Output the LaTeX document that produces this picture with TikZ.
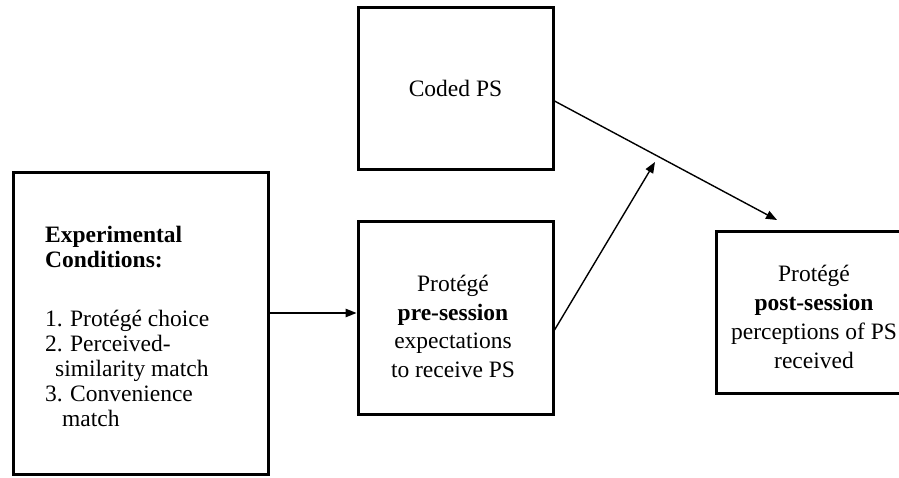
\documentclass[tikz,border=0pt]{standalone}
\usepackage{fontspec}
\setmainfont{Liberation Serif}
\usetikzlibrary{arrows.meta}
\begin{document}
\begin{tikzpicture}[x=1pt,y=1pt,
  boxnode/.style={draw=black, line width=3pt, rectangle, inner sep=0pt, font=\fontsize{23.5}{28.5}\selectfont},
  txt/.style={inner sep=0pt, font=\fontsize{23.5}{28.5}\selectfont, align=center},
  conn/.style={line width=1.4pt, -{Triangle[length=11pt,width=8.5pt]}}]
\useasboundingbox (0,0) rectangle (899,477);
\clip (0,0) rectangle (899,477);
% boxes
\node[boxnode, minimum width=254.5pt, minimum height=301pt] (cond) at (140.75,153.5) {};
\node[boxnode, minimum width=195pt, minimum height=162.7pt] (coded) at (455.5,388.35) {Coded PS};
\node[boxnode, minimum width=195pt, minimum height=192pt] (pre) at (455.5,159) {};
\node[boxnode, minimum width=194pt, minimum height=161pt] (post) at (813,164.5) {};
% texts
\node[txt, align=left, anchor=north west, font=\fontsize{23.5}{25}\selectfont] (condtext) at (45,251)
  {\textbf{Experimental}\\
   \textbf{Conditions:}\\[34pt]
   \makebox[25pt][l]{1.}Protégé choice\\
   \makebox[25pt][l]{2.}Perceived-\\
   \hspace*{10pt}similarity match\\
   \makebox[25pt][l]{3.}Convenience\\
   \hspace*{17pt}match};
\node[txt, anchor=north] (pretext) at (453,201.6)
  {Protégé\\ \textbf{pre-session}\\ expectations\\ to receive PS};
\node[txt, anchor=north, font=\fontsize{23.5}{29}\selectfont] (posttext) at (814,211.6)
  {Protégé\\ \textbf{post-session}\\ perceptions of PS\\ received};
% connectors
\coordinate (a1) at ([yshift=10.5pt]cond.east);
\draw[conn] (a1) -- (a1 -| pre.west);
\coordinate (tipB) at (655,315);
\draw[conn] ([yshift=-12pt]pre.east) -- (tipB);
\coordinate (tipC) at (777,257);
\draw[conn] ([yshift=-12.35pt]coded.east) -- (tipC);
\end{tikzpicture}
\end{document}
